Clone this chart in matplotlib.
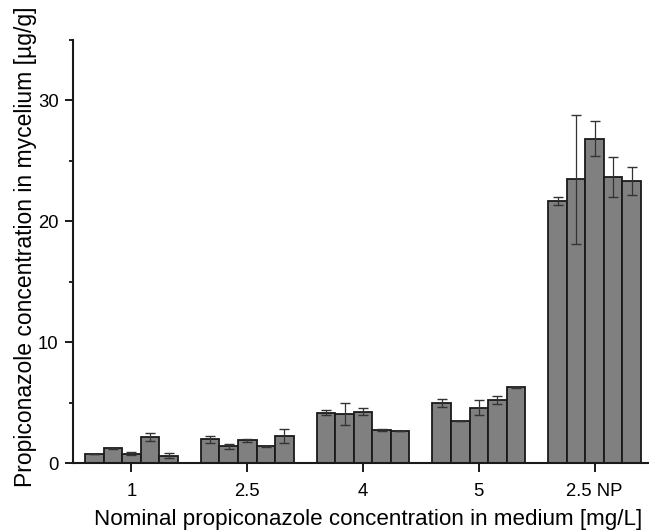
import matplotlib
matplotlib.use("Agg")
import matplotlib.pyplot as plt
from matplotlib.ticker import MultipleLocator
import numpy as np

plt.rcParams['font.family'] = ['Liberation Sans', 'DejaVu Sans']

categories = ["1", "2.5", "4", "5", "2.5 NP"]

# mean concentration of each replicate culture, per nominal concentration
conc_1 = [0.78, 1.25, 0.78, 2.2, 0.62]
conc_2_5 = [2.0, 1.4, 1.9, 1.4, 2.25]
conc_4 = [4.2, 4.07, 4.27, 2.72, 2.68]
conc_5 = [4.95, 3.5, 4.6, 5.24, 6.3]
conc_2_5_np = [21.7, 23.5, 26.85, 23.7, 23.35]

# standard deviations
err_1 = [0.03, 0.04, 0.12, 0.33, 0.2]
err_2_5 = [0.3, 0.2, 0.1, 0.04, 0.6]
err_4 = [0.17, 0.94, 0.28, 0.08, 0.02]
err_5 = [0.33, 0.0, 0.6, 0.35, 0.05]
err_2_5_np = [0.36, 5.33, 1.45, 1.64, 1.13]

values = [conc_1, conc_2_5, conc_4, conc_5, conc_2_5_np]
errors = [err_1, err_2_5, err_4, err_5, err_2_5_np]

fig = plt.figure(figsize=(6.49, 5.30), dpi=100)
ax = fig.add_axes([0.1125, 0.1258, 0.8875, 0.7987])

n = len(values[0])
width = 0.16
offsets = (np.arange(n) - (n - 1) / 2) * width
centers = np.arange(len(categories))

for c, vals, errs in zip(centers, values, errors):
    ax.bar(c + offsets, vals, width=width, color='#808080',
           edgecolor='#1a1a1a', linewidth=1.3, zorder=2)
    ax.errorbar(c + offsets, vals, yerr=errs, fmt='none', ecolor='#333333',
                elinewidth=0.9, capsize=3.4, capthick=1.0, zorder=3)

ax.set_xlim(-0.505, 4.47)
ax.set_ylim(0, 35)
ax.set_xticks(centers)
ax.set_xticklabels(categories)
ax.yaxis.set_major_locator(MultipleLocator(10))
ax.yaxis.set_minor_locator(MultipleLocator(5))

for side in ('top', 'right'):
    ax.spines[side].set_visible(False)
for side in ('left', 'bottom'):
    ax.spines[side].set_linewidth(1.5)
    ax.spines[side].set_color('#1a1a1a')

ax.tick_params(axis='both', which='major', direction='out', length=5.8,
               width=1.4, labelsize=13.3, colors='#1a1a1a', labelcolor='black')
ax.tick_params(axis='y', which='minor', direction='out', length=3.1, width=1.2)
ax.tick_params(axis='x', which='minor', bottom=False)
ax.tick_params(axis='x', which='major', length=6.2, pad=8.0)
ax.tick_params(axis='y', which='major', pad=4.5)

ax.set_ylabel('Propiconazole concentration in mycelium [µg/g]', fontsize=16.5)
ax.set_xlabel('Nominal propiconazole concentration in medium [mg/L]',
              fontsize=16.1)
ax.yaxis.set_label_coords(-0.0625, 0.512)
ax.xaxis.set_label_coords(0.512, -0.107)

fig.savefig('out.png', dpi=100)
